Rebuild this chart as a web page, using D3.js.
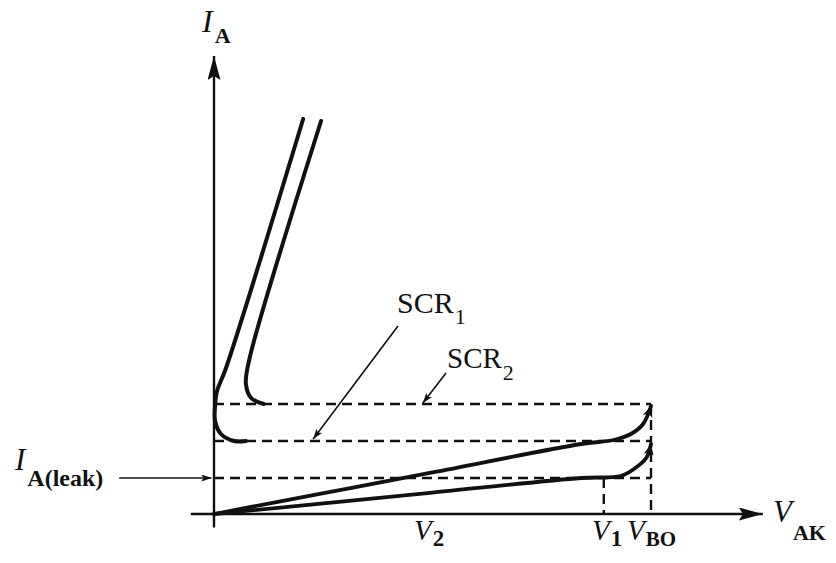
<!DOCTYPE html>
<html><head><meta charset="utf-8">
<script src="https://cdn.jsdelivr.net/npm/d3@7"></script>
<style>
html,body{margin:0;padding:0;background:#fff;}
svg{display:block;}
text{font-family:"Liberation Serif","Times New Roman",serif;fill:#111;}
</style></head><body>
<svg id="chart" width="836" height="563"></svg>
<script>
// SCR anode characteristic: V_AK and I_A in relative units, breakover voltage = 100.
const V_BO = 100;
const V1 = 89.2;
const V2 = 49.7;
const holdingCurrents = [18.25, 27.5];   // dashed holding-current levels
const leakCurrent = 9;                    // forward leakage level
const axisExtent = {vMin: -5.3, vMax: 125.6, iMin: -3.4, iMax: 114.5};

// Forward-blocking branches, origin to breakover
const forwardUpper = [[0,0],[24.5,5.1],[50,10.4],[84,17.5],[91.5,18.5],[95.4,20],[98.2,22.5],[100,27]];
const forwardLower = [[0,0],[24.5,2.6],[50,5.36],[84,9],[93.1,9.5],[96.1,11.25],[98.9,14],[100,17.5]];
// On-state branches
const onLeft  = [[20.4,98.75],[2.75,36.5],[0.7,30.75],[0.25,27],[0.25,23.25],[1.6,20],[4.6,18.25],[7.3,18.25]];
const onRight = [[24.5,98.25],[8,38.25],[7.3,32.5],[8.5,29],[11.4,27.5]];

// Callout pointers [from, to]
const pointerSCR1 = [[42.1,47],[22.7,18.75]];
const pointerSCR2 = [[53.1,35.25],[47.8,27.75]];
const leakPointer = [[-21.7,9],[-0.6,9]];

const svg = d3.select("#chart");
const x = d3.scaleLinear().domain([0, V_BO]).range([214, 651]);
const y = d3.scaleLinear().domain([0, 100]).range([514, 114]);
const ink = "#111";

// arrowhead markers
const defs = svg.append("defs");
function marker(id, len, half, notch) {
  defs.append("marker").attr("id", id)
    .attr("viewBox", `0 ${-half} ${len} ${2*half}`)
    .attr("refX", len).attr("refY", 0)
    .attr("markerUnits", "userSpaceOnUse")
    .attr("markerWidth", len).attr("markerHeight", 2*half)
    .attr("orient", "auto")
    .append("path")
    .attr("d", `M0,${-half}L${len},0L0,${half}L${notch},0Z`)
    .attr("fill", ink);
}
marker("axisHead", 24, 6.5, 4);
marker("smallHead", 10, 3.5, 2);
marker("curveHead", 11, 5, 3);

// axes
svg.append("line")
  .attr("x1", x(axisExtent.vMin)).attr("x2", x(axisExtent.vMax))
  .attr("y1", y(0)).attr("y2", y(0))
  .attr("stroke", ink).attr("stroke-width", 2.4)
  .attr("marker-end", "url(#axisHead)");
svg.append("line")
  .attr("x1", x(0)).attr("x2", x(0))
  .attr("y1", y(axisExtent.iMin)).attr("y2", y(axisExtent.iMax))
  .attr("stroke", ink).attr("stroke-width", 2.4)
  .attr("marker-end", "url(#axisHead)");

// dashed reference lines
const dash = "10,6";
[...holdingCurrents, leakCurrent].forEach(level => {
  svg.append("line")
    .attr("x1", x(0)).attr("x2", x(V_BO))
    .attr("y1", y(level)).attr("y2", y(level))
    .attr("stroke", ink).attr("stroke-width", 2.4).attr("stroke-dasharray", dash);
});
svg.append("line")
  .attr("x1", x(V_BO)).attr("x2", x(V_BO))
  .attr("y1", y(holdingCurrents[1])).attr("y2", y(0))
  .attr("stroke", ink).attr("stroke-width", 2.4).attr("stroke-dasharray", dash);
svg.append("line")
  .attr("x1", x(V1)).attr("x2", x(V1))
  .attr("y1", y(leakCurrent)).attr("y2", y(0))
  .attr("stroke", ink).attr("stroke-width", 2.4).attr("stroke-dasharray", dash);

// characteristic curves
const line = d3.line().x(d => x(d[0])).y(d => y(d[1])).curve(d3.curveCatmullRom.alpha(0.5));
[forwardUpper, forwardLower].forEach(pts => {
  svg.append("path").attr("d", line(pts))
    .attr("fill", "none").attr("stroke", ink).attr("stroke-width", 3.8)
    .attr("stroke-linecap", "round")
    .attr("marker-end", "url(#curveHead)");
});
[onLeft, onRight].forEach(pts => {
  svg.append("path").attr("d", line(pts))
    .attr("fill", "none").attr("stroke", ink).attr("stroke-width", 4)
    .attr("stroke-linecap", "round");
});

// pointers
[pointerSCR1, pointerSCR2, leakPointer].forEach(p => {
  svg.append("line")
    .attr("x1", x(p[0][0])).attr("y1", y(p[0][1]))
    .attr("x2", x(p[1][0])).attr("y2", y(p[1][1]))
    .attr("stroke", ink).attr("stroke-width", 1.6)
    .attr("marker-end", "url(#smallHead)");
});

// labels with subscripts
function label(px, py, main, sub, o) {
  const t = svg.append("text").attr("x", px).attr("y", py);
  t.append("tspan").text(main)
    .attr("font-size", o.size).attr("font-style", o.italic ? "italic" : "normal");
  t.append("tspan").text(sub)
    .attr("dx", o.gap || 1).attr("dy", o.drop)
    .attr("font-size", o.subSize).attr("font-weight", o.subBold ? "bold" : "normal");
}
label(202, 32, "I", "A", {size: 32, italic: true, subSize: 22, subBold: true, drop: 11, gap: 2});
label(773, 522, "V", "AK", {size: 31, italic: true, subSize: 22, subBold: true, drop: 18});
label(414, 540, "V", "2", {size: 29, italic: true, subSize: 23, subBold: true, drop: 6});
label(592, 540, "V", "1", {size: 29, italic: true, subSize: 23, subBold: true, drop: 6});
label(627, 540, "V", "BO", {size: 29, italic: true, subSize: 21, subBold: true, drop: 6});
label(15, 470, "I", "A(leak)", {size: 31, italic: true, subSize: 24, subBold: true, drop: 16, gap: 2});
label(397, 313, "SCR", "1", {size: 30, subSize: 22, drop: 11});
label(447, 368, "SCR", "2", {size: 29, subSize: 22, drop: 12});
</script>
</body></html>
